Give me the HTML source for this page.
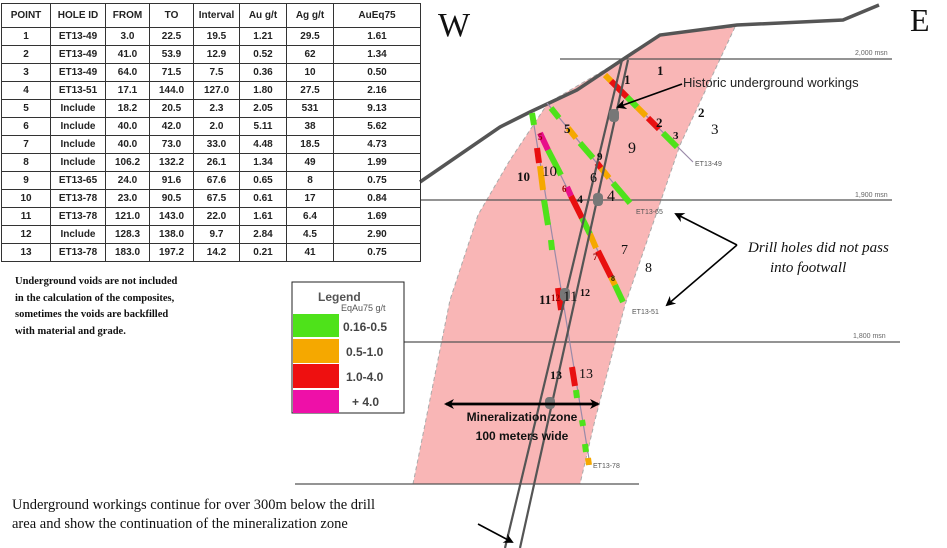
<!DOCTYPE html>
<html><head><meta charset="utf-8">
<style>
html,body{margin:0;padding:0;background:#fff;width:947px;height:548px;overflow:hidden;position:relative;font-family:"Liberation Sans",sans-serif}
table{position:absolute;left:1px;top:3px;border-collapse:collapse;font-size:10px;font-weight:bold;color:#222}
td{border:1px solid #333;text-align:center;height:17px;padding:0;line-height:16px}
tr:first-child td{height:23px}
.note{position:absolute;left:15px;top:274px;font-family:"Liberation Serif",serif;font-weight:bold;font-size:10.5px;line-height:16.5px;color:#111}
svg{position:absolute;left:0;top:0}
</style></head><body>
<svg width="947" height="548" viewBox="0 0 947 548" font-family="Liberation Sans,sans-serif">
<defs><marker id="ah" markerWidth="10" markerHeight="10" refX="8" refY="5" orient="auto" markerUnits="userSpaceOnUse"><path d="M0,0 L10,5 L0,10 L3,5 z" fill="#000"/></marker></defs>
<path d="M413,484 L450,300 L478,215 L510,160 L548,103 L625,58 L660,35 L735,27 L680,145 L625,305 L595,420 L580,484 Z" fill="#f9b6b6" stroke="#aaa" stroke-dasharray="4,3" stroke-width="1"/>
<line x1="560" y1="59" x2="892" y2="59" stroke="#555" stroke-width="1.3"/>
<line x1="420" y1="200" x2="892" y2="200" stroke="#555" stroke-width="1.3"/>
<line x1="295" y1="342" x2="900" y2="342" stroke="#555" stroke-width="1.3"/>
<line x1="295" y1="484" x2="639" y2="484" stroke="#555" stroke-width="1.3"/>
<g font-size="7" fill="#666"><text x="855" y="55">2,000 msn</text><text x="855" y="197">1,900 msn</text><text x="853" y="338">1,800 msn</text></g>
<polyline points="420,182 500,127 530,112 577,90 625,58 660,35 737,25 843,20 879,5" fill="none" stroke="#555" stroke-width="3.5"/>
<g stroke="#9a8aa8" stroke-width="1.2">
<line x1="605" y1="75" x2="693" y2="162"/>
<line x1="547" y1="103" x2="630" y2="203"/>
<line x1="540" y1="133" x2="623" y2="302"/>
<line x1="532" y1="113" x2="590" y2="465"/>
</g>
<g stroke-width="6">
<line x1="605" y1="75" x2="611" y2="81" stroke="#f5a800"/>
<line x1="611" y1="81" x2="627" y2="97" stroke="#e81010"/>
<line x1="627" y1="97" x2="637" y2="107" stroke="#4ee21a"/>
<line x1="637" y1="107" x2="646" y2="116" stroke="#f5a800"/>
<line x1="648" y1="118" x2="659" y2="129" stroke="#e81010"/>
<line x1="663" y1="133" x2="677" y2="147" stroke="#4ee21a"/>
<line x1="551" y1="108" x2="559" y2="118" stroke="#4ee21a"/>
<line x1="568" y1="128" x2="576" y2="138" stroke="#f5a800"/>
<line x1="580" y1="143" x2="593" y2="158" stroke="#4ee21a"/>
<line x1="597" y1="163" x2="601" y2="168" stroke="#e81010"/>
<line x1="601" y1="168" x2="609" y2="178" stroke="#f5a800"/>
<line x1="613" y1="183" x2="630" y2="203" stroke="#4ee21a"/>
<line x1="540" y1="133" x2="548" y2="150" stroke="#e8108a"/>
<line x1="548" y1="150" x2="561" y2="175" stroke="#4ee21a"/>
<line x1="567" y1="187" x2="571" y2="196" stroke="#e8108a"/>
<line x1="571" y1="196" x2="582" y2="218" stroke="#e81010"/>
<line x1="582" y1="218" x2="590" y2="234" stroke="#4ee21a"/>
<line x1="590" y1="234" x2="596" y2="248" stroke="#f5a800"/>
<line x1="598" y1="251" x2="611" y2="277" stroke="#e81010"/>
<line x1="611" y1="277" x2="615" y2="285" stroke="#f5a800"/>
<line x1="615" y1="285" x2="623" y2="302" stroke="#4ee21a"/>
<line x1="532" y1="113" x2="534" y2="125" stroke="#4ee21a"/>
<line x1="537" y1="148" x2="539" y2="163" stroke="#e81010"/>
<line x1="540" y1="166" x2="543" y2="190" stroke="#f5a800"/>
<line x1="544" y1="200" x2="548" y2="225" stroke="#4ee21a"/>
<line x1="551" y1="240" x2="552" y2="250" stroke="#4ee21a"/>
<line x1="558" y1="288" x2="561" y2="310" stroke="#e81010"/>
<line x1="572" y1="367" x2="575" y2="386" stroke="#e81010"/>
<line x1="576" y1="390" x2="577" y2="398" stroke="#4ee21a"/>
<line x1="582" y1="420" x2="583" y2="426" stroke="#4ee21a"/>
<line x1="585" y1="444" x2="586" y2="452" stroke="#4ee21a"/>
<line x1="588" y1="458" x2="589" y2="465" stroke="#f5a800"/>
</g>
<line x1="622" y1="60" x2="505" y2="548" stroke="#555" stroke-width="2.2"/>
<line x1="628" y1="60" x2="520" y2="548" stroke="#555" stroke-width="2.2"/>
<g fill="#777"><rect x="609" y="109" width="10" height="13" rx="4"/><rect x="593" y="193" width="10" height="13" rx="4"/><rect x="560" y="288" width="10" height="13" rx="4"/><rect x="545" y="397" width="10" height="12" rx="4"/></g>
<g font-size="7" fill="#555"><text x="695" y="166">ET13-49</text><text x="636" y="214">ET13-65</text><text x="632" y="314">ET13-51</text><text x="593" y="468">ET13-78</text></g>
<g font-family="Liberation Serif,serif" font-weight="bold" fill="#111">
<text x="624" y="84" font-size="13">1</text><text x="657" y="75" font-size="13">1</text>
<text x="656" y="127" font-size="13">2</text><text x="698" y="117" font-size="13">2</text>
<text x="673" y="139" font-size="11">3</text><text x="711" y="134" font-size="15" font-weight="normal">3</text>
<text x="628" y="153" font-size="16" font-weight="normal">9</text>
<text x="538" y="140" font-size="9" fill="#900">5</text><text x="564" y="133" font-size="13">5</text>
<text x="597" y="160" font-size="11">9</text>
<text x="517" y="181" font-size="13">10</text><text x="542" y="176" font-size="15" font-weight="normal">10</text>
<text x="562" y="192" font-size="9" fill="#900">6</text><text x="590" y="182" font-size="14" font-weight="normal">6</text>
<text x="577" y="203" font-size="12">4</text><text x="607" y="201" font-size="16" font-weight="normal">4</text>
<text x="621" y="254" font-size="14" font-weight="normal">7</text><text x="645" y="272" font-size="14" font-weight="normal">8</text>
<text x="593" y="260" font-size="9" fill="#900">7</text><text x="611" y="281" font-size="8">8</text>
<text x="539" y="304" font-size="13">11</text><text x="551" y="301" font-size="9" fill="#900">12</text>
<text x="563" y="301" font-size="15" font-weight="normal">11</text><text x="580" y="296" font-size="10">12</text>
<text x="550" y="379" font-size="12">13</text><text x="579" y="378" font-size="14" font-weight="normal">13</text>
</g>
<text x="438" y="36" font-family="Liberation Serif,serif" font-size="34" fill="#111">W</text>
<text x="910" y="31" font-family="Liberation Serif,serif" font-size="32" fill="#111">E</text>
<text x="683" y="87" font-size="13" fill="#222">Historic underground workings</text>
<line x1="682" y1="84" x2="618" y2="107" stroke="#000" stroke-width="1.6" marker-end="url(#ah)"/>
<g font-family="Liberation Serif,serif" font-style="italic" font-size="15" fill="#111"><text x="748" y="252">Drill holes did not pass</text><text x="770" y="272">into footwall</text></g>
<polyline points="737,245 667,305" fill="none" stroke="#000" stroke-width="1.6" marker-end="url(#ah)"/>
<line x1="737" y1="245" x2="676" y2="214" stroke="#000" stroke-width="1.6" marker-end="url(#ah)"/>
<line x1="452" y1="404" x2="598" y2="404" stroke="#000" stroke-width="2.5" marker-end="url(#ah)"/>
<line x1="598" y1="404" x2="446" y2="404" stroke="#000" stroke-width="2.5" marker-end="url(#ah)"/>
<g font-size="12" font-weight="bold" fill="#111" text-anchor="middle"><text x="522" y="421">Mineralization zone</text><text x="522" y="440">100 meters wide</text></g>
<rect x="292" y="282" width="112" height="131" fill="#fff" stroke="#222" stroke-width="1"/>
<text x="318" y="301" font-size="12" font-weight="bold" fill="#555">Legend</text>
<text x="341" y="311" font-size="9" fill="#555">EqAu75 g/t</text>
<rect x="293" y="314" width="46" height="23" fill="#4ee21a"/>
<rect x="293" y="339" width="46" height="24" fill="#f5a800"/>
<rect x="293" y="364" width="46" height="24" fill="#ee1010"/>
<rect x="293" y="390" width="46" height="23" fill="#ee10a8"/>
<g font-size="12" font-weight="bold" fill="#444"><text x="343" y="331">0.16-0.5</text><text x="346" y="356">0.5-1.0</text><text x="346" y="381">1.0-4.0</text><text x="352" y="406">+ 4.0</text></g>
<g font-family="Liberation Serif,serif" font-size="14.5" fill="#111"><text x="12" y="509">Underground workings continue for over 300m below the drill</text><text x="12" y="528">area and show the continuation of the mineralization zone</text></g>
<line x1="478" y1="524" x2="512" y2="542" stroke="#000" stroke-width="1.6" marker-end="url(#ah)"/>
</svg>
<table>
<tr><td style="width:48px">POINT</td><td style="width:54px">HOLE ID</td><td style="width:43px">FROM</td><td style="width:43px">TO</td><td style="width:45px">Interval</td><td style="width:46px">Au g/t</td><td style="width:46px">Ag g/t</td><td style="width:86px">AuEq75</td></tr>
<tr><td>1</td><td>ET13-49</td><td>3.0</td><td>22.5</td><td>19.5</td><td>1.21</td><td>29.5</td><td>1.61</td></tr>
<tr><td>2</td><td>ET13-49</td><td>41.0</td><td>53.9</td><td>12.9</td><td>0.52</td><td>62</td><td>1.34</td></tr>
<tr><td>3</td><td>ET13-49</td><td>64.0</td><td>71.5</td><td>7.5</td><td>0.36</td><td>10</td><td>0.50</td></tr>
<tr><td>4</td><td>ET13-51</td><td>17.1</td><td>144.0</td><td>127.0</td><td>1.80</td><td>27.5</td><td>2.16</td></tr>
<tr><td>5</td><td>Include</td><td>18.2</td><td>20.5</td><td>2.3</td><td>2.05</td><td>531</td><td>9.13</td></tr>
<tr><td>6</td><td>Include</td><td>40.0</td><td>42.0</td><td>2.0</td><td>5.11</td><td>38</td><td>5.62</td></tr>
<tr><td>7</td><td>Include</td><td>40.0</td><td>73.0</td><td>33.0</td><td>4.48</td><td>18.5</td><td>4.73</td></tr>
<tr><td>8</td><td>Include</td><td>106.2</td><td>132.2</td><td>26.1</td><td>1.34</td><td>49</td><td>1.99</td></tr>
<tr><td>9</td><td>ET13-65</td><td>24.0</td><td>91.6</td><td>67.6</td><td>0.65</td><td>8</td><td>0.75</td></tr>
<tr><td>10</td><td>ET13-78</td><td>23.0</td><td>90.5</td><td>67.5</td><td>0.61</td><td>17</td><td>0.84</td></tr>
<tr><td>11</td><td>ET13-78</td><td>121.0</td><td>143.0</td><td>22.0</td><td>1.61</td><td>6.4</td><td>1.69</td></tr>
<tr><td>12</td><td>Include</td><td>128.3</td><td>138.0</td><td>9.7</td><td>2.84</td><td>4.5</td><td>2.90</td></tr>
<tr><td>13</td><td>ET13-78</td><td>183.0</td><td>197.2</td><td>14.2</td><td>0.21</td><td>41</td><td>0.75</td></tr>
</table>
<div class="note">Underground voids are not included<br>in the calculation of the composites,<br>sometimes the voids are backfilled<br>with material and grade.</div>
</body></html>
